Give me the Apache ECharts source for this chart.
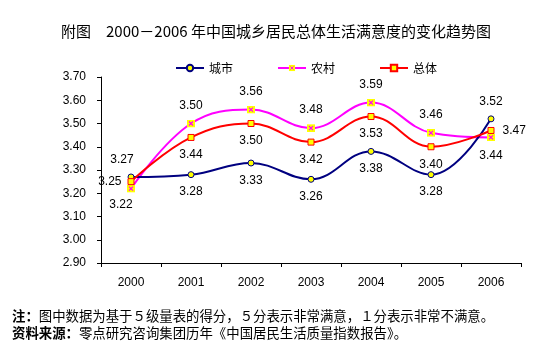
<!DOCTYPE html>
<html>
<head>
<meta charset="utf-8">
<script src="https://cdn.jsdelivr.net/npm/echarts@6/dist/echarts.min.js"></script>
<style>
html,body{margin:0;padding:0;background:#fff;}
#c{width:542px;height:359px;}
</style>
</head>
<body>
<div id="c"></div>
<script>
const categories = ['2000','2001','2002','2003','2004','2005','2006'];
const cityValues = [3.27, 3.28, 3.33, 3.26, 3.38, 3.28, 3.52];
const ruralValues = [3.22, 3.50, 3.56, 3.48, 3.59, 3.46, 3.44];
const totalValues = [3.25, 3.44, 3.50, 3.42, 3.53, 3.40, 3.47];
const seriesNames = ['城市', '农村', '总体'];
const yTicks = {min: 2.9, max: 3.7, interval: 0.1};
const titleText = '附图　2000－2006 年中国城乡居民总体生活满意度的变化趋势图';
const note1 = '注：';
const note1Body = '图中数据为基于５级量表的得分，５分表示非常满意，１分表示非常不满意。';
const note2 = '资料来源：';
const note2Body = '零点研究咨询集团历年《中国居民生活质量指数报告》。';

// label placement per point: [position, offsetX, offsetY]
const cityLabelPos = [['top',-9,0],'bottom','bottom','bottom','bottom','bottom','top'];
const ruralLabelPos = [['bottom',-10,-2],'top','top','top','top','top','bottom'];
const totalLabelPos = [['left',2,0],'bottom','bottom','bottom','bottom','bottom','right'];

const xSvg = 'image://data:image/svg+xml;charset=utf-8,' + encodeURIComponent(
 '<svg xmlns="http://www.w3.org/2000/svg" width="8" height="8" viewBox="0 0 8 8">' +
 '<rect x="0" y="0" width="8" height="8" fill="#FFFF00"/>' +
 '<path d="M2 2 L6 6 M6 2 L2 6" stroke="#FF00FF" stroke-width="1.2"/></svg>');

function mkData(vals, pos) {
  return vals.map((v, i) => {
    const p = pos[i];
    let lbl;
    if (Array.isArray(p)) lbl = {position: p[0], offset: [p[1], p[2]]};
    else lbl = {position: p};
    return {value: v, label: lbl};
  });
}

const labelBase = {show: true, color: '#000', fontFamily: 'Liberation Sans, Arial', fontSize: 12, distance: 8,
  formatter: p => p.value.toFixed(2)};

const chart = echarts.init(document.getElementById('c'), null, {renderer: 'canvas'});
chart.setOption({
  animation: false,
  backgroundColor: '#fff',
  title: {
    text: titleText, left: 56, top: 19,
    textStyle: {fontFamily: 'Noto Sans CJK SC', fontSize: 15, fontWeight: 'normal', color: '#000'}
  },
  legend: {
    data: seriesNames, left: 170, top: 57, itemWidth: 28, itemHeight: 8, itemGap: 44,
    textStyle: {fontFamily: 'Noto Sans CJK SC', fontSize: 12, color: '#000'}
  },
  grid: {left: 101, right: 21, top: 77, bottom: 96},
  xAxis: {
    type: 'category', data: categories, boundaryGap: true,
    axisLine: {lineStyle: {color: '#000', width: 1}},
    axisTick: {show: true, length: 4, lineStyle: {color: '#000'}},
    axisLabel: {color: '#000', fontFamily: 'Liberation Sans, Arial', fontSize: 12, margin: 14}
  },
  yAxis: {
    type: 'value', min: yTicks.min, max: yTicks.max, interval: yTicks.interval,
    axisLine: {show: true, lineStyle: {color: '#000', width: 1}},
    axisTick: {show: true, length: 4, lineStyle: {color: '#000'}},
    splitLine: {show: false},
    axisLabel: {color: '#000', fontFamily: 'Liberation Sans, Arial', fontSize: 12, margin: 15,
      formatter: v => v.toFixed(2)}
  },
  series: [
    {
      name: seriesNames[0], type: 'line', smooth: 0.4, data: mkData(cityValues, cityLabelPos),
      symbol: 'circle', symbolSize: 6,
      lineStyle: {color: '#000080', width: 2},
      itemStyle: {color: '#FFFF00', borderColor: '#000080', borderWidth: 1},
      label: labelBase, z: 3
    },
    {
      name: seriesNames[1], type: 'line', smooth: 0.4, data: mkData(ruralValues, ruralLabelPos),
      symbol: xSvg, symbolSize: 8,
      lineStyle: {color: '#FF00FF', width: 2},
      itemStyle: {color: '#FF00FF'},
      label: labelBase, z: 2
    },
    {
      name: seriesNames[2], type: 'line', smooth: 0.4, data: mkData(totalValues, totalLabelPos),
      symbol: 'rect', symbolSize: 6,
      lineStyle: {color: '#FF0000', width: 2},
      itemStyle: {color: '#FFFF00', borderColor: '#FF0000', borderWidth: 1},
      label: labelBase, z: 4
    }
  ],
  graphic: [
    {type: 'text', left: 12, top: 309, style: {rich: {
      b: {fontFamily: 'Noto Sans CJK SC', fontSize: 13.4, fontWeight: 'bold', fill: '#000'},
      n: {fontFamily: 'Noto Sans CJK SC', fontSize: 13.4, fill: '#000'}},
      text: '{b|' + note1 + '}{n|' + note1Body + '}'}},
    {type: 'text', left: 12, top: 326, style: {rich: {
      b: {fontFamily: 'Noto Sans CJK SC', fontSize: 13.4, fontWeight: 'bold', fill: '#000'},
      n: {fontFamily: 'Noto Sans CJK SC', fontSize: 13.4, fill: '#000'}},
      text: '{b|' + note2 + '}{n|' + note2Body + '}'}}
  ]
});
</script>
</body>
</html>
